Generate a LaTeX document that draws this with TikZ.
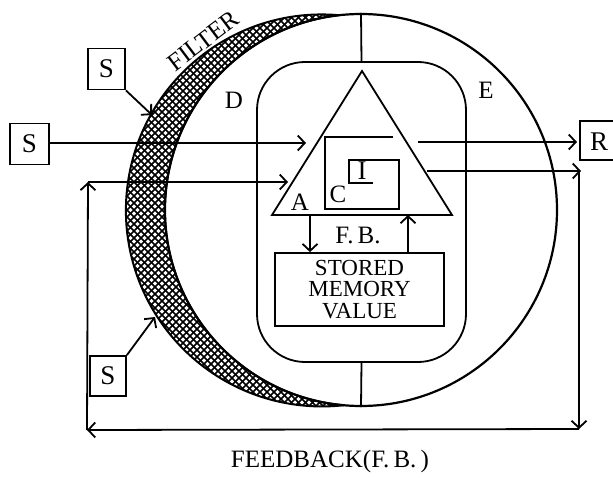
\documentclass[tikz,border=0pt]{standalone}
\usepackage{fontspec}
\setmainfont{Liberation Serif}
\usetikzlibrary{arrows.meta}
\begin{document}
\begin{tikzpicture}[x=1pt,y=-1pt,line width=1.8pt,
  lab/.style={font=\fontsize{25}{27}\selectfont, inner sep=0pt},
  sbox/.style={draw, minimum width=37pt, minimum height=41pt, inner sep=0pt, font=\fontsize{27}{29}\selectfont},
  arr/.style={-{Straight Barb[length=7pt,width=15pt,line width=1.8pt]}},
  hatchline/.style={line width=1.7pt}]
\useasboundingbox (0,0) rectangle (613,478);
% main circle and core
\node[draw, circle, line width=2.2pt, minimum size=392pt, inner sep=0pt] (main) at (361,210) {};
\node[draw, rounded corners=48pt, minimum width=209pt, minimum height=300pt, inner sep=0pt] (core) at (361.5,212) {};
\draw (core.north) -- (main.north);
\draw (core.south) -- (main.south);
% filter crescent
\begin{scope}
\clip (339,15.2) arc[start angle=-85, end angle=-276.4, radius=196]
  arc[start angle=95, end angle=263.6, radius=196] -- cycle;
\foreach \c in {-300,-293,...,340} {\draw[hatchline] (\c,0) -- (\c+480,480);}
\foreach \c in {120,127,...,760} {\draw[hatchline] (\c,0) -- (\c-480,480);}
\end{scope}
\draw[line width=2pt] (339,15.2) arc[start angle=-85, end angle=-276.4, radius=196]
  arc[start angle=95, end angle=263.6, radius=196] -- cycle;
\node[lab, rotate=37] (filter) at (203,41) {FILTER};
% triangle
\coordinate (tA) at (362,71);
\coordinate (tL) at (272,215);
\coordinate (tR) at (452,215);
\draw[line join=miter] (tA) -- (tL) -- (tR) -- cycle;
% inner box
\draw (393,137) -- (325,137) -- (325,209) -- (399,209) -- (399,160) -- (349,160) -- (349,183) -- (373,183);
\node[font=\fontsize{27}{29}\selectfont, inner sep=0pt] (I) at (362,171) {I};
\node[lab] (C) at (338,194) {C};
\node[lab] (A) at (300,202) {A};
\node[lab] (D) at (234,100) {D};
\node[lab] (E) at (486,90) {E};
% memory box
\node[draw, minimum width=169pt, minimum height=73pt, inner sep=0pt, align=center,
  font=\fontsize{23}{21.5}\selectfont] (mem) at (359.5,289.5) {STORED\\MEMORY\\VALUE};
\coordinate (fbd0) at (310,215);
\coordinate (fbu0) at (408,215);
\draw[arr] (fbd0) -- (fbd0 |- mem.north);
\draw[arr] (fbu0 |- mem.north) -- (fbu0);
\node[lab] (fb) at (358,235) {F.\,B.};
% S boxes
\node[sbox] (S1) at (106.5,69) {S};
\node[sbox, minimum width=39pt] (S2) at (29.5,144) {S};
\node[sbox, minimum width=36pt, minimum height=40pt] (S3) at (108,376) {S};
\coordinate (f1) at (152,115);
\coordinate (f3) at (155,317);
\coordinate (s2t) at (306,143);
\draw[arr] (S1.south east) -- (f1);
\draw[arr] (S3.north east) -- (f3);
\draw[arr] (S2.east |- s2t) -- (s2t);
% R box
\coordinate (Rtl) at (580,121);
\coordinate (Rbl) at (580,160);
\draw (615,121) -- (Rtl) -- (Rbl) -- (615,160);
\node[font=\fontsize{27}{29}\selectfont, inner sep=0pt] (R) at (599,142) {R};
\coordinate (r0) at (418,142);
\coordinate (r1) at (577,142);
\draw[arr] (r0) -- (r1);
% feedback loop
\coordinate (o0) at (427,171);
\coordinate (c1) at (581,171);
\coordinate (c2) at (579,429);
\coordinate (c3) at (87,430);
\coordinate (c4) at (88,182);
\coordinate (i0) at (288,182);
\draw[arr] (o0) -- (c1);
\draw[arr] (579,171) -- (c2);
\draw[arr] (c2) -- (c3);
\draw[arr] (c3) -- (c4);
\draw[arr] (c4) -- (i0);
\node[font=\fontsize{25}{27}\selectfont, inner sep=0pt] (fbt) at (330,461) {FEEDBACK(F.\,B.\,)};
\end{tikzpicture}
\end{document}
